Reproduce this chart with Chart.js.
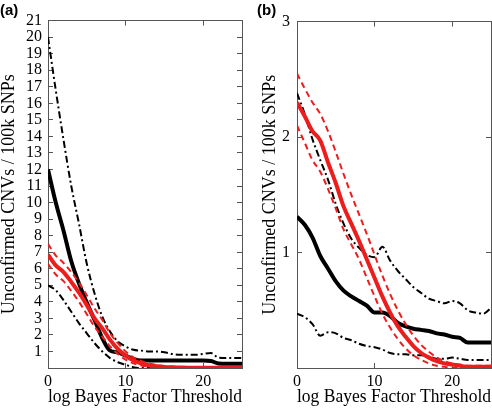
<!DOCTYPE html>
<html><head><meta charset="utf-8">
<script src="https://cdn.jsdelivr.net/npm/chart.js@4/dist/chart.umd.min.js"></script>
<style>
html,body{margin:0;padding:0;background:#fff;}
#wrap{position:relative;width:492px;height:409px;overflow:hidden;background:#fff}
.pane{position:absolute;top:0;width:246px;height:409px}
.tag{position:absolute;top:1px;font:bold 15px "Liberation Sans",Arial,sans-serif;color:#000}
</style></head><body>
<div id="wrap">
<div class="pane" style="left:0"><canvas id="ca" width="246" height="409"></canvas></div>
<div class="pane" style="left:246px"><canvas id="cb" width="246" height="409"></canvas></div>
<div class="tag" style="left:0">(a)</div>
<div class="tag" style="left:257px">(b)</div>
</div>
<script>
// ---- data ----
const xs = [0,1,2,3,4,5,6,7,8,9,10,11,12,13,14,15,16,17,18,19,20,21,22,23,24,25];
const xTicks = [0,10,20];
const yTicksA = [1,2,3,4,5,6,7,8,9,10,11,12,13,14,15,16,17,18,19,20,21];
const yTicksB = [1,2,3];
const xTitle = 'log Bayes Factor Threshold';
const yTitle = 'Unconfirmed CNVs / 100k SNPs';

// panel (a)
const aBlack   = [12,10.0,8.3,6.45,5.1,3.95,2.9,1.8,1.05,0.95,0.75,0.55,0.45,0.45,0.45,0.45,0.45,0.45,0.45,0.45,0.45,0.42,0.27,0.25,0.25,0.25];
const aBlackHi = [20,16.8,13.8,11.0,8.7,6.3,4.5,3.1,2.2,1.6,1.3,1.1,1.05,1.0,1.0,0.95,0.85,0.8,0.8,0.8,0.85,0.9,0.62,0.6,0.6,0.6];
const aBlackLo = [5.0,4.7,4.1,3.4,2.7,2.1,1.5,1.0,0.6,0.35,0.2,0.05,0,0,0,0,0,0,0,0,0,0,0,0,0,0];
const aRed     = [6.85,6.2,5.8,5.2,4.55,3.8,3.0,2.4,1.7,1.15,0.75,0.45,0.28,0.17,0.1,0.06,0.04,0.03,0.02,0.02,0.02,0.02,0.02,0.02,0.02,0.02];
const aRedHi   = [7.5,6.8,6.35,5.8,5.15,4.4,3.6,2.9,2.1,1.5,1.0,0.65,0.42,0.28,0.18,0.12,0.08,0.06,0.05,0.04,0.04,0.04,0.04,0.04,0.04,0.04];
const aRedLo   = [6.3,5.65,5.25,4.65,4.0,3.25,2.5,1.9,1.3,0.85,0.5,0.28,0.15,0.08,0.04,0.02,0.01,0,0,0,0,0,0,0,0,0];

// panel (b)
const bBlack   = [1.31,1.24,1.13,0.97,0.86,0.75,0.67,0.62,0.58,0.54,0.48,0.48,0.45,0.39,0.36,0.34,0.33,0.32,0.30,0.29,0.27,0.26,0.22,0.22,0.22,0.22];
const bBlackHi = [2.38,2.2,1.98,1.8,1.63,1.42,1.25,1.12,1.04,0.98,0.96,1.05,0.93,0.84,0.77,0.70,0.65,0.60,0.58,0.56,0.58,0.56,0.50,0.48,0.47,0.52];
const bBlackLo = [0.47,0.44,0.38,0.28,0.31,0.30,0.26,0.24,0.21,0.19,0.18,0.16,0.13,0.12,0.12,0.11,0.11,0.10,0.08,0.08,0.09,0.08,0.07,0.07,0.07,0.07];
const bRed     = [2.3,2.18,2.05,1.97,1.78,1.6,1.4,1.25,1.1,0.94,0.78,0.62,0.48,0.36,0.27,0.19,0.13,0.09,0.06,0.04,0.03,0.02,0.01,0.01,0.01,0.01];
const bRedHi   = [2.55,2.42,2.3,2.2,2.05,1.87,1.68,1.5,1.33,1.16,0.98,0.8,0.64,0.5,0.38,0.28,0.2,0.14,0.09,0.06,0.04,0.03,0.02,0.02,0.02,0.02];
const bRedLo   = [2.1,1.95,1.8,1.7,1.55,1.38,1.2,1.07,0.94,0.78,0.62,0.47,0.35,0.25,0.17,0.11,0.07,0.04,0.02,0.01,0,0,0,0,0,0];

// ---- drawing ----
const RED = '#ee1d1d';
const FRAME = '#555';
const pts = arr => xs.map((x, i) => ({x: x, y: arr[i]}));
function ds(arr, color, width, dash) {
  return {data: pts(arr), borderColor: color, borderWidth: width, borderDash: dash,
          pointRadius: 0, fill: false, cubicInterpolationMode: 'monotone', borderCapStyle: 'butt'};
}
function setTicks(list) { return s => { s.ticks = list.map(v => ({value: v})); }; }
const tickFont = {family: '"Liberation Serif","Times New Roman",serif', size: 16};
const titleFont = {family: '"Liberation Serif","Times New Roman",serif', size: 18, lineHeight: 1};
const gridOpts = {drawOnChartArea: false, drawTicks: true, tickLength: -5, color: FRAME, lineWidth: 1};

function makeChart(id, sets, yMax, yTicks, yWidth, yTitlePad, yTickPad, padRight) {
  return new Chart(document.getElementById(id), {
    type: 'line',
    data: {datasets: sets},
    options: {
      responsive: false, animation: false, events: [],
      layout: {padding: {top: 7, right: padRight, left: 0, bottom: 0}},
      plugins: {legend: {display: false}, tooltip: {enabled: false}},
      scales: {
        x: {type: 'linear', position: 'bottom', min: 0, max: 25,
            afterBuildTicks: setTicks(xTicks),
            afterFit: s => { s.height = 41; },
            grid: gridOpts, border: {color: FRAME, width: 1},
            ticks: {font: tickFont, color: '#000', padding: 9.5, maxRotation: 0, autoSkip: false},
            title: {display: true, text: xTitle, font: titleFont, color: '#000', padding: {top: 0, bottom: 3}}},
        x2: {type: 'linear', position: 'top', min: 0, max: 25,
            afterBuildTicks: setTicks(xTicks),
            afterFit: s => { s.height = 0; },
            grid: gridOpts, border: {color: FRAME, width: 1},
            ticks: {display: false, autoSkip: false}},
        y: {type: 'linear', position: 'left', min: 0, max: yMax,
            afterBuildTicks: setTicks(yTicks),
            afterFit: s => { s.width = yWidth; },
            grid: gridOpts, border: {color: FRAME, width: 1},
            ticks: {font: tickFont, color: '#000', padding: yTickPad, autoSkip: false},
            title: {display: true, text: yTitle, font: titleFont, color: '#000', padding: {top: yTitlePad, bottom: 0}}},
        y2: {type: 'linear', position: 'right', min: 0, max: yMax,
            afterBuildTicks: setTicks(yTicks),
            afterFit: s => { s.width = 0; },
            grid: gridOpts, border: {color: FRAME, width: 1},
            ticks: {display: false, autoSkip: false}}
      }
    }
  });
}

const dashDot = [7, 3, 2, 3];
const dashed = [6, 4];
makeChart('ca', [
  ds(aRed, RED, 4, []),
  ds(aRedHi, RED, 2, dashed),
  ds(aRedLo, RED, 2, dashed),
  ds(aBlack, '#000', 4, []),
  ds(aBlackHi, '#000', 2, dashDot),
  ds(aBlackLo, '#000', 2, dashDot)
], 21, yTicksA, 48, 0, 11, 4);

makeChart('cb', [
  ds(bRed, RED, 4, []),
  ds(bRedHi, RED, 2, dashed),
  ds(bRedLo, RED, 2, dashed),
  ds(bBlack, '#000', 4, []),
  ds(bBlackHi, '#000', 2, dashDot),
  ds(bBlackLo, '#000', 2, dashDot)
], 3, yTicksB, 51, 15, 12, 1);
</script>
</body></html>
